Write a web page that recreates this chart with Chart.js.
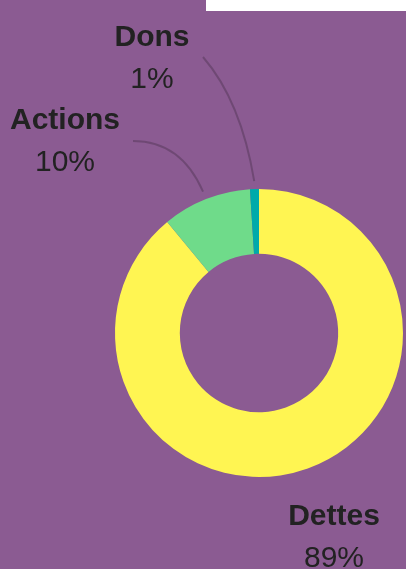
<!DOCTYPE html>
<html>
<head>
<meta charset="utf-8">
<script src="https://cdn.jsdelivr.net/npm/chart.js@4"></script>
<style>
  html, body { margin: 0; padding: 0; background: #8b5b92; }
  #wrap { width: 406px; height: 569px; position: relative; }
</style>
</head>
<body>
<div id="wrap"><canvas id="repartitionChart"></canvas></div>
<script>
const categories = ['Dettes', 'Actions', 'Dons'];
const percentages = [89, 10, 1];
const sliceColors = ['#fff552', '#6fdb8a', '#00aaaa'];

// label baseline relative to the doughnut centre (px), plus leader line start and bend
const labelPlacement = [
    { dx: 75, dy: 192, line: false },
    { dx: -194, dy: -204, line: true, start: [68, 12], ctrl: [-78, -192] },
    { dx: -107, dy: -287, line: true, start: [51, 11], ctrl: [-18, -232] }
];

const backgroundPlugin = {
    id: 'purpleBackground',
    beforeDraw(chart) {
        const ctx = chart.ctx;
        ctx.save();
        ctx.fillStyle = '#8b5b92';
        ctx.fillRect(0, 0, chart.width, chart.height);
        ctx.fillStyle = '#ffffff';
        ctx.fillRect(206, 0, chart.width - 206, 11);
        ctx.restore();
    }
};

const outsideLabels = {
    id: 'outsideLabels',
    afterDatasetsDraw(chart) {
        const ctx = chart.ctx;
        const meta = chart.getDatasetMeta(0);
        ctx.save();
        meta.data.forEach(function (arc, i) {
            const p = labelPlacement[i];
            const cx = arc.x, cy = arc.y;
            const mid = (arc.startAngle + arc.endAngle) / 2;
            const tx = cx + p.dx, ty = cy + p.dy;

            if (p.line) {
                const r = arc.outerRadius + 8;
                const ex = cx + Math.cos(mid) * r;
                const ey = cy + Math.sin(mid) * r;
                ctx.beginPath();
                ctx.moveTo(tx + p.start[0], ty + p.start[1]);
                ctx.quadraticCurveTo(cx + p.ctrl[0], cy + p.ctrl[1], ex, ey);
                ctx.strokeStyle = 'rgba(0, 0, 0, 0.2)';
                ctx.lineWidth = 2;
                ctx.stroke();
            }

            ctx.fillStyle = '#222222';
            ctx.textAlign = 'center';
            ctx.textBaseline = 'alphabetic';
            ctx.font = 'bold 30px "Liberation Sans", Arial, sans-serif';
            ctx.fillText(categories[i], tx, ty);
            ctx.font = '30px "Liberation Sans", Arial, sans-serif';
            ctx.fillText(percentages[i] + '%', tx, ty + 42);
        });
        ctx.restore();
    }
};

const canvas = document.getElementById('repartitionChart');

new Chart(canvas.getContext('2d'), {
    type: 'doughnut',
    data: {
        labels: categories,
        datasets: [{
            data: percentages,
            backgroundColor: sliceColors,
            borderWidth: 0,
            hoverOffset: 0
        }]
    },
    options: {
        responsive: true,
        maintainAspectRatio: false,
        animation: false,
        cutout: '55%',
        layout: {
            padding: { left: 115, right: 3, top: 189, bottom: 92 }
        },
        plugins: {
            legend: { display: false },
            tooltip: { enabled: false }
        }
    },
    plugins: [backgroundPlugin, outsideLabels]
});
</script>
</body>
</html>
